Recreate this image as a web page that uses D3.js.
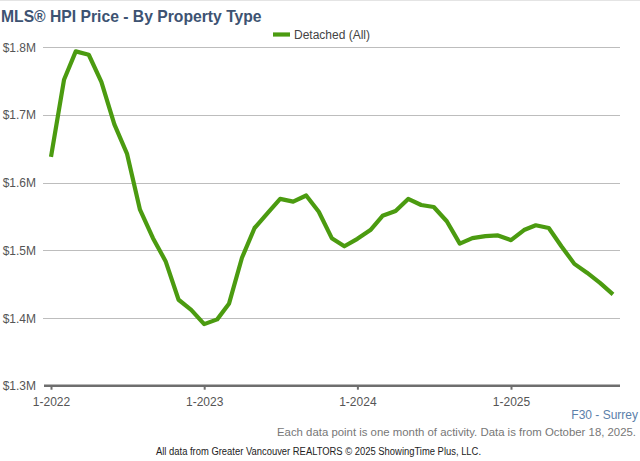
<!DOCTYPE html>
<html><head><meta charset="utf-8">
<script src="https://cdn.jsdelivr.net/npm/d3@7/dist/d3.min.js"></script>
<style>
html,body{margin:0;padding:0;background:#fff;}
svg{display:block;font-family:"Liberation Sans",Arial,sans-serif;}
</style></head>
<body>
<svg id="chart" width="640" height="461"></svg>
<script>
const seriesName = "Detached (All)";
const values = [
  1.638, 1.752, 1.794, 1.789, 1.749, 1.686, 1.643, 1.560, 1.518, 1.484,
  1.427, 1.412, 1.391, 1.398, 1.421, 1.489, 1.533, 1.555, 1.576, 1.572,
  1.581, 1.557, 1.518, 1.506, 1.517, 1.530, 1.551, 1.558, 1.576, 1.567,
  1.564, 1.543, 1.510, 1.518, 1.521, 1.522, 1.515, 1.530, 1.537, 1.533,
  1.506, 1.480, 1.467, 1.452, 1.435
];
const yTicks = [1.3, 1.4, 1.5, 1.6, 1.7, 1.8];
const xTicks = [new Date(2022,0,1), new Date(2023,0,1), new Date(2024,0,1), new Date(2025,0,1)];
const title = "MLS® HPI Price - By Property Type";
const areaLabel = "F30 - Surrey";
const note = "Each data point is one month of activity. Data is from October 18, 2025.";
const credit = "All data from Greater Vancouver REALTORS © 2025 ShowingTime Plus, LLC.";

const data = values.map((v, i) => ({date: new Date(2022, i, 1), value: v}));

const svg = d3.select("#chart");
svg.append("line").attr("x1",0).attr("x2",640).attr("y1",0.5).attr("y2",0.5)
  .attr("stroke","#e4e4e4").attr("stroke-width",1);

const x = d3.scaleTime().domain([new Date(2022,0,1), new Date(2025,0,1)]).range([51, 511]);
const y = d3.scaleLinear().domain([1.3, 1.8]).range([385.7, 47.3]);

svg.append("g").selectAll("line").data(yTicks.filter(t => t > 1.3)).join("line")
  .attr("x1", 43).attr("x2", 620)
  .attr("y1", d => Math.round(y(d)) + 0.5).attr("y2", d => Math.round(y(d)) + 0.5)
  .attr("stroke", "#bdbdbd").attr("stroke-width", 1);

svg.append("g").selectAll("text").data(yTicks).join("text")
  .attr("x", 36).attr("y", d => y(d) + 4.5)
  .attr("text-anchor", "end").attr("font-size", 12).attr("fill", "#555")
  .text(d => "$" + d3.format(".1f")(d) + "M");

const xAxis = d3.axisBottom(x).tickValues(xTicks).tickSize(4).tickSizeOuter(0)
  .tickFormat(d => (d.getMonth()+1) + "-" + d.getFullYear());
const gx = svg.append("g").attr("transform", `translate(0,${385.7})`).call(xAxis);
gx.select(".domain").remove();
gx.insert("line", ":first-child").attr("x1", 44).attr("x2", 620).attr("y1", 0).attr("y2", 0)
  .attr("stroke", "#6e6e6e").attr("stroke-width", 2.5);
gx.selectAll(".tick line").attr("stroke", "#6e6e6e").attr("stroke-width", 2);
gx.selectAll(".tick text").attr("font-size", 12).attr("fill", "#555")
  .attr("font-family", "Liberation Sans, Arial, sans-serif").attr("dy", 0).attr("y", 20.5);

const line = d3.line().x(d => x(d.date)).y(d => y(d.value));
svg.append("path").datum(data).attr("d", line)
  .attr("fill", "none").attr("stroke", "#4b9b10").attr("stroke-width", 4.2)
  .attr("stroke-linejoin", "round").attr("stroke-linecap", "butt");

svg.append("text").attr("x", 1).attr("y", 21.5).attr("font-size", 15.7).attr("font-weight", "bold")
  .attr("fill", "#3d5372").text(title);

svg.append("line").attr("x1", 273).attr("x2", 290).attr("y1", 34.5).attr("y2", 34.5)
  .attr("stroke", "#4b9b10").attr("stroke-width", 4.2);
svg.append("text").attr("x", 294).attr("y", 38.8).attr("font-size", 12).attr("fill", "#444")
  .text(seriesName);

svg.append("text").attr("x", 638).attr("y", 419).attr("text-anchor", "end")
  .attr("font-size", 12).attr("fill", "#5b80aa").text(areaLabel);
svg.append("text").attr("x", 636).attr("y", 436).attr("text-anchor", "end")
  .attr("font-size", 11).attr("fill", "#777")
  .attr("textLength", 359).attr("lengthAdjust", "spacingAndGlyphs").text(note);
svg.append("text").attr("x", 156).attr("y", 455).attr("font-size", 10).attr("fill", "#222")
  .attr("textLength", 325).attr("lengthAdjust", "spacingAndGlyphs").text(credit);
</script>
</body></html>
